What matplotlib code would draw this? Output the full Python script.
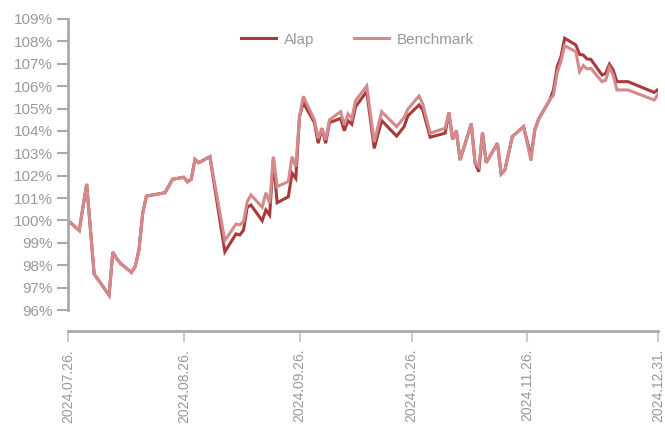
import pandas as pd
import matplotlib
matplotlib.use("Agg")
import matplotlib.pyplot as plt

plt.rcParams['font.family'] = ['Liberation Sans', 'DejaVu Sans']

dates = [
    "2024-07-26", "2024-07-29", "2024-07-31", "2024-08-02", "2024-08-06", "2024-08-07",
    "2024-08-08", "2024-08-09", "2024-08-12", "2024-08-13", "2024-08-14", "2024-08-15",
    "2024-08-16", "2024-08-21", "2024-08-23", "2024-08-26", "2024-08-27", "2024-08-28",
    "2024-08-29", "2024-08-30", "2024-09-02", "2024-09-06", "2024-09-09", "2024-09-10",
    "2024-09-11", "2024-09-12", "2024-09-13", "2024-09-16", "2024-09-17", "2024-09-18",
    "2024-09-19", "2024-09-20", "2024-09-23", "2024-09-24", "2024-09-25", "2024-09-26",
    "2024-09-27", "2024-09-30", "2024-10-01", "2024-10-02", "2024-10-03", "2024-10-04",
    "2024-10-07", "2024-10-08", "2024-10-09", "2024-10-10", "2024-10-11", "2024-10-14",
    "2024-10-16", "2024-10-18", "2024-10-22", "2024-10-24", "2024-10-25", "2024-10-28",
    "2024-10-29", "2024-10-31", "2024-11-04", "2024-11-05", "2024-11-06", "2024-11-07",
    "2024-11-08", "2024-11-11", "2024-11-12", "2024-11-13", "2024-11-14", "2024-11-15",
    "2024-11-18", "2024-11-19", "2024-11-20", "2024-11-22", "2024-11-25", "2024-11-27",
    "2024-11-28", "2024-11-29", "2024-12-02", "2024-12-03", "2024-12-04", "2024-12-05",
    "2024-12-06", "2024-12-09", "2024-12-10", "2024-12-11", "2024-12-12", "2024-12-13",
    "2024-12-16", "2024-12-17", "2024-12-18", "2024-12-19", "2024-12-20", "2024-12-23",
    "2024-12-30", "2024-12-31",
]

alap = [
    100.00, 99.55, 101.63, 97.61, 96.66, 98.59,
    98.31, 98.09, 97.68, 97.94, 98.68, 100.32,
    101.09, 101.24, 101.84, 101.93, 101.73, 101.84,
    102.73, 102.58, 102.85, 98.60, 99.40, 99.35,
    99.57, 100.59, 100.69, 99.99, 100.47, 100.24,
    102.75, 100.79, 101.06, 102.11, 101.88, 104.64,
    105.26, 104.37, 103.45, 104.12, 103.45, 104.37,
    104.56, 104.01, 104.46, 104.30, 105.08, 105.76,
    103.22, 104.46, 103.77, 104.19, 104.67, 105.16,
    104.94, 103.72, 103.90, 104.82, 103.62, 104.01,
    102.70, 104.32, 102.58, 102.18, 103.92, 102.58,
    103.45, 102.08, 102.26, 103.75, 104.19, 102.85,
    104.04, 104.52, 105.38, 105.83, 106.87, 107.30,
    108.14, 107.84, 107.42, 107.39, 107.21, 107.20,
    106.50, 106.57, 106.98, 106.72, 106.20, 106.20,
    105.72, 105.85,
]

benchmark = [
    100.00, 99.55, 101.63, 97.61, 96.66, 98.59,
    98.31, 98.09, 97.68, 97.94, 98.68, 100.32,
    101.09, 101.24, 101.84, 101.93, 101.73, 101.84,
    102.73, 102.58, 102.85, 99.10, 99.84, 99.80,
    99.95, 100.84, 101.14, 100.59, 101.24, 100.77,
    102.85, 101.51, 101.74, 102.85, 102.40, 104.64,
    105.55, 104.49, 103.67, 104.12, 103.60, 104.49,
    104.86, 104.27, 104.76, 104.55, 105.35, 106.01,
    103.50, 104.86, 104.19, 104.60, 104.97, 105.56,
    105.20, 103.90, 104.12, 104.82, 103.62, 104.01,
    102.70, 104.32, 102.58, 102.40, 103.92, 102.58,
    103.45, 102.08, 102.26, 103.75, 104.19, 102.67,
    104.04, 104.52, 105.38, 105.60, 106.60, 107.10,
    107.81, 107.54, 106.65, 106.92, 106.77, 106.80,
    106.20, 106.27, 106.83, 106.50, 105.83, 105.83,
    105.38, 105.64,
]

tick_dates = ["2024-07-26", "2024-08-26", "2024-09-26", "2024-10-26", "2024-11-26", "2024-12-31"]
y_ticks = list(range(96, 110))

x = pd.to_datetime(dates)
xt = pd.to_datetime(tick_dates)

fig = plt.figure(figsize=(6.65, 4.25), dpi=100)
ax = fig.add_axes([68 / 665, 1 - 310 / 425, 590 / 665, 291 / 425])

ax.plot(x, alap, color="#a83a3b", lw=2.2, label="Alap", solid_joinstyle="miter")
ax.plot(x, benchmark, color="#d48a8c", lw=2.2, label="Benchmark", solid_joinstyle="miter")

ax.set_xlim(xt[0], xt[-1])
ax.set_ylim(96, 109)
ax.set_yticks(y_ticks)
ax.set_yticklabels([f"{v}%" for v in y_ticks])
ax.set_xticks(xt)
ax.set_xticklabels([d.strftime("%Y.%m.%d.") for d in xt])

for s in ["top", "right"]:
    ax.spines[s].set_visible(False)
ax.spines["left"].set_color("#aaaaaa")
ax.spines["left"].set_linewidth(2)
ax.spines["bottom"].set_color("#aaaaaa")
ax.spines["bottom"].set_linewidth(2)
ax.spines["bottom"].set_position(("outward", 15))

ax.tick_params(axis="y", length=8, width=1.5, color="#aaaaaa", labelcolor="#999999",
               labelsize=11, pad=3)
ax.tick_params(axis="x", length=8, width=1.5, color="#cccccc", labelcolor="#999999",
               labelsize=10, pad=5, labelrotation=90)

ax.legend(loc="upper center", bbox_to_anchor=(0.49, 1.0), ncol=2, frameon=False,
          handlelength=2.3, columnspacing=2.6, handletextpad=0.5,
          labelcolor="#999999", fontsize=11)

fig.savefig("out.png", dpi=100)
